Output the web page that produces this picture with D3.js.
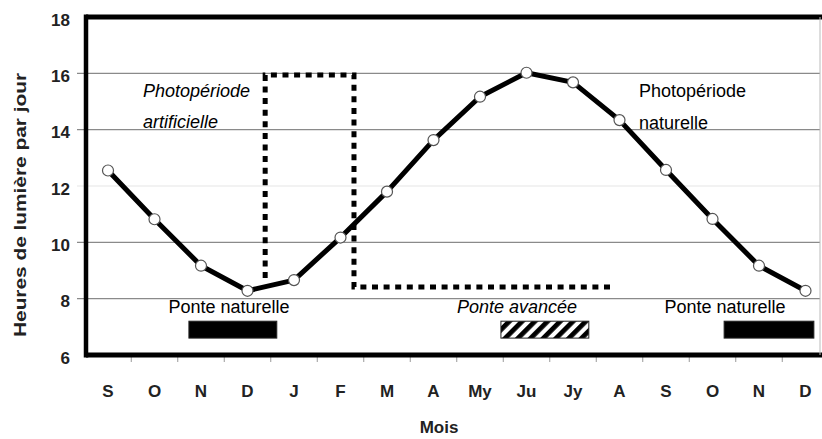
<!DOCTYPE html>
<html>
<head>
<meta charset="utf-8">
<script src="https://cdn.jsdelivr.net/npm/d3@7"></script>
<style>
  html, body { margin: 0; padding: 0; background: #fff; }
  svg { display: block; }
  text { font-family: "Liberation Sans", Arial, sans-serif; }
</style>
</head>
<body>
<svg id="chart" width="822" height="439"></svg>
<script>
// ---- data ----
const months = ["S","O","N","D","J","F","M","A","My","Ju","Jy","A","S","O","N","D"];
const hours  = [12.55, 10.82, 9.17, 8.28, 8.66, 10.17, 11.8, 13.63, 15.17, 16.02, 15.68, 14.34, 12.57, 10.83, 9.17, 8.28];
const yTicks = [6, 8, 10, 12, 14, 16, 18];
const gridMajor = [8, 10, 14, 16];
const gridMinor = [12];
// artificial photoperiod programme (month index, hours)
const artificialX = [3.38, 3.38, 5.29, 5.29, 10.84];
const artificialY = [8.73, 15.94, 15.94, 8.41, 8.41];
// laying periods (month index start/end)
const ponteNat1 = [1.74, 3.63];
const ponteAvancee = [8.45, 10.34];
const ponteNat2 = [13.25, 15.18];
const barHours = [6.6, 7.2];

// ---- layout ----
const svg = d3.select("#chart");
const pLeft = 86, pRight = 820, pTop = 17, pBottom = 355;
const x = d3.scaleLinear().domain([0, months.length - 1]).range([108, 805.5]);
const y = d3.scaleLinear().domain([6, 18]).range([pBottom, pTop]);

const defs = svg.append("defs");
const pat = defs.append("pattern")
  .attr("id", "hatch").attr("patternUnits", "userSpaceOnUse")
  .attr("width", 9).attr("height", 9)
  .attr("patternTransform", "rotate(45)");
pat.append("rect").attr("width", 9).attr("height", 9).attr("fill", "#fff");
pat.append("rect").attr("width", 4.8).attr("height", 9).attr("fill", "#000");

// gridlines (extend left as tick marks)
svg.append("g").selectAll("line").data(gridMajor).join("line")
  .attr("x1", 77).attr("x2", pRight).attr("y1", d => y(d)).attr("y2", d => y(d))
  .attr("stroke", "#8a8a8a").attr("stroke-width", 1.2);
svg.append("g").selectAll("line").data(gridMinor).join("line")
  .attr("x1", 77).attr("x2", pRight).attr("y1", d => y(d)).attr("y2", d => y(d))
  .attr("stroke", "#e6e6e6").attr("stroke-width", 1.2);

// bottom small ticks between months
const halfTicks = d3.range(0, months.length - 1).map(i => i + 0.5);
svg.append("g").selectAll("line").data(halfTicks).join("line")
  .attr("x1", d => x(d)).attr("x2", d => x(d))
  .attr("y1", pBottom).attr("y2", pBottom + 7)
  .attr("stroke", "#999").attr("stroke-width", 1);

// frame
svg.append("line").attr("x1", pLeft).attr("x2", 822).attr("y1", pTop).attr("y2", pTop)
  .attr("stroke", "#000").attr("stroke-width", 5);
svg.append("line").attr("x1", pLeft).attr("x2", 822).attr("y1", pBottom).attr("y2", pBottom)
  .attr("stroke", "#000").attr("stroke-width", 5);
svg.append("line").attr("x1", pLeft).attr("x2", pLeft).attr("y1", pTop - 2.5).attr("y2", pBottom + 2.5)
  .attr("stroke", "#000").attr("stroke-width", 4.5);
svg.append("line").attr("x1", pRight).attr("x2", pRight).attr("y1", pTop).attr("y2", pBottom)
  .attr("stroke", "#bbb").attr("stroke-width", 1);

// y tick labels
svg.append("g").selectAll("text").data(yTicks).join("text")
  .attr("x", 70).attr("y", d => y(d) + 8.5)
  .attr("text-anchor", "end").attr("font-weight", "bold").attr("font-size", 17)
  .attr("fill", "#222").text(d => d);

// x labels
svg.append("g").selectAll("text").data(months).join("text")
  .attr("x", (d, i) => x(i)).attr("y", 397)
  .attr("text-anchor", "middle").attr("font-weight", "bold").attr("font-size", 17)
  .attr("fill", "#222").text(d => d);

// axis titles
svg.append("text").attr("transform", "translate(26,205) rotate(-90)")
  .attr("text-anchor", "middle").attr("font-weight", "bold").attr("font-size", 16)
  .attr("textLength", 264).attr("lengthAdjust", "spacingAndGlyphs")
  .attr("fill", "#222").text("Heures de lumière par jour");
svg.append("text").attr("x", 439).attr("y", 433)
  .attr("text-anchor", "middle").attr("font-weight", "bold").attr("font-size", 17)
  .attr("fill", "#222").text("Mois");

// artificial photoperiod dotted path
const pts = artificialX.map((d, i) => [x(d), y(artificialY[i])]);
svg.append("path").attr("d", d3.line()(pts))
  .attr("fill", "none").attr("stroke", "#000").attr("stroke-width", 5)
  .attr("stroke-dasharray", "6,5.6");

// natural photoperiod line
svg.append("path").datum(hours)
  .attr("d", d3.line().x((d, i) => x(i)).y(d => y(d)))
  .attr("fill", "none").attr("stroke", "#000").attr("stroke-width", 5)
  .attr("stroke-linejoin", "round");
svg.append("g").selectAll("circle").data(hours).join("circle")
  .attr("cx", (d, i) => x(i)).attr("cy", d => y(d)).attr("r", 5.5)
  .attr("fill", "#fff").attr("stroke", "#555").attr("stroke-width", 1.2);

// laying bars
function bar(range, fill) {
  svg.append("rect")
    .attr("x", x(range[0])).attr("width", x(range[1]) - x(range[0]))
    .attr("y", y(barHours[1])).attr("height", y(barHours[0]) - y(barHours[1]))
    .attr("fill", fill).attr("stroke", "#222").attr("stroke-width", 1);
}
bar(ponteNat1, "#000");
bar(ponteAvancee, "url(#hatch)");
bar(ponteNat2, "#000");

// annotations
const ann = [
  {t: "Photopériode", x: 143, y: 97, it: true, a: "start"},
  {t: "artificielle", x: 143, y: 128, it: true, a: "start"},
  {t: "Photopériode", x: 639, y: 97, it: false, a: "start"},
  {t: "naturelle", x: 639, y: 129, it: false, a: "start"},
  {t: "Ponte naturelle", x: 229, y: 313, it: false, a: "middle"},
  {t: "Ponte avancée", x: 517, y: 313, it: true, a: "middle"},
  {t: "Ponte naturelle", x: 725, y: 313, it: false, a: "middle"}
];
svg.append("g").selectAll("text").data(ann).join("text")
  .attr("x", d => d.x).attr("y", d => d.y).attr("text-anchor", d => d.a)
  .attr("font-size", 18).attr("font-style", d => d.it ? "italic" : "normal")
  .attr("fill", "#000").text(d => d.t);
</script>
</body>
</html>
